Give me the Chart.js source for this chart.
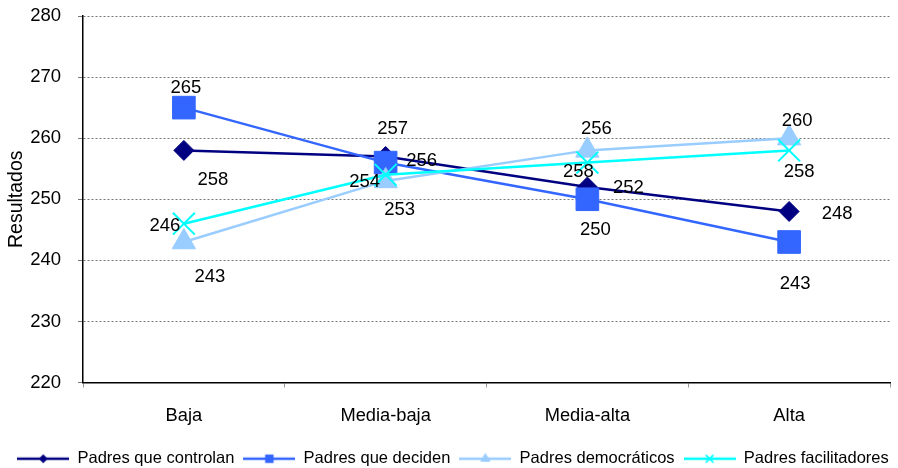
<!DOCTYPE html>
<html>
<head>
<meta charset="utf-8">
<script src="https://cdn.jsdelivr.net/npm/chart.js@4.4.1/dist/chart.umd.min.js"></script>
<style>
  html, body { margin: 0; padding: 0; background: #fff; }
  #wrap { width: 898px; height: 468px; }
</style>
</head>
<body>
<div id="wrap"><canvas id="chartCanvas"></canvas></div>
<script>
const categories = ["Baja", "Media-baja", "Media-alta", "Alta"];
const seriesNames = ["Padres que controlan", "Padres que deciden", "Padres democráticos", "Padres facilitadores"];
const controlan = [258, 257, 252, 248];
const deciden = [265, 256, 250, 243];
const democraticos = [243, 253, 258, 260];
const facilitadores = [246, 254, 256, 258];

// where each value label sits relative to its point (px)
const labelOffsets = [
  [[29, 30], [7, -28], [41, 1], [48, 2]],
  [[2, -20], [36, -2], [8, 31], [6, 42]],
  [[26, 35], [14, 29], [-9, 22], [8, -17]],
  [[-19, 2], [-21, 7], [9, -34], [10, 22]]
];

const FONT = "'Liberation Sans', Arial, sans-serif";

function markerPath(ctx, style, x, y, r) {
  ctx.beginPath();
  if (style === "rectRot") {
    ctx.moveTo(x - r, y); ctx.lineTo(x, y - r); ctx.lineTo(x + r, y); ctx.lineTo(x, y + r); ctx.closePath();
  } else if (style === "rect") {
    const s = r * Math.SQRT1_2;
    ctx.rect(x - s, y - s, 2 * s, 2 * s);
  } else if (style === "triangle") {
    ctx.moveTo(x, y - r);
    ctx.lineTo(x + r * 0.866, y + r * 0.5);
    ctx.lineTo(x - r * 0.866, y + r * 0.5);
    ctx.closePath();
  } else {
    const d = r * Math.SQRT1_2;
    ctx.moveTo(x - d, y - d); ctx.lineTo(x + d, y + d);
    ctx.moveTo(x + d, y - d); ctx.lineTo(x - d, y + d);
  }
}

function legendImage(color, style, r) {
  const c = document.createElement("canvas");
  c.width = 52; c.height = 14;
  const ctx = c.getContext("2d");
  ctx.strokeStyle = color;
  ctx.fillStyle = color;
  ctx.lineWidth = 2.5;
  ctx.beginPath(); ctx.moveTo(0, 7); ctx.lineTo(52, 7); ctx.stroke();
  markerPath(ctx, style, 26, 7, r);
  if (style === "crossRot") { ctx.lineWidth = 1.5; ctx.stroke(); } else { ctx.fill(); }
  return c;
}

const colors = ["#000080", "#3366FF", "#99CCFF", "#00FFFF"];
const styles = ["rectRot", "rect", "triangle", "crossRot"];
const radii = [10, 16, 13.5, 15.5];
const legendRadii = [4.5, 6, 6, 5.5];
const allData = [controlan, deciden, democraticos, facilitadores];

const datasets = allData.map((d, i) => ({
  label: seriesNames[i],
  data: d,
  borderColor: colors[i],
  backgroundColor: colors[i],
  borderWidth: 2.5,
  pointStyle: styles[i],
  pointRadius: radii[i],
  pointHoverRadius: radii[i],
  pointBorderWidth: i === 3 ? 2 : 1,
  pointBackgroundColor: colors[i],
  pointBorderColor: colors[i],
  tension: 0,
  clip: false,
  order: 4 - i
}));

const valueLabels = {
  id: "valueLabels",
  afterDatasetsDraw(chart) {
    const ctx = chart.ctx;
    ctx.save();
    ctx.font = "18.5px " + FONT;
    ctx.fillStyle = "#000";
    ctx.textAlign = "center";
    ctx.textBaseline = "middle";
    chart.data.datasets.forEach((ds, i) => {
      const meta = chart.getDatasetMeta(i);
      meta.data.forEach((pt, j) => {
        const off = labelOffsets[i][j];
        ctx.fillText(String(ds.data[j]), pt.x + off[0], pt.y + off[1]);
      });
    });
    ctx.restore();
  }
};

// nudge the legend a bit lower and to the right, like the original
const legendShift = {
  id: "legendShift",
  afterLayout(chart) {
    const lg = chart.legend;
    if (!lg) return;
    lg.top += 9; lg.bottom += 9;
    lg.left += 8; lg.right += 8;
  }
};

const ctx = document.getElementById("chartCanvas").getContext("2d");
new Chart(ctx, {
  type: "line",
  data: { labels: categories, datasets: datasets },
  plugins: [valueLabels, legendShift],
  options: {
    responsive: true,
    maintainAspectRatio: false,
    animation: false,
    layout: { autoPadding: false, padding: { top: 16, right: 8, bottom: 0, left: 0 } },
    plugins: {
      tooltip: { enabled: false },
      legend: {
        position: "bottom",
        labels: {
          usePointStyle: true,
          pointStyleWidth: 52,
          padding: 9,
          color: "#000",
          font: { family: FONT, size: 16.5 },
          generateLabels(chart) {
            return chart.data.datasets.map((ds, i) => ({
              text: ds.label,
              pointStyle: legendImage(colors[i], styles[i], legendRadii[i]),
              fillStyle: colors[i],
              strokeStyle: colors[i],
              lineWidth: 0,
              hidden: false,
              datasetIndex: i
            }));
          }
        }
      }
    },
    scales: {
      x: {
        offset: true,
        grid: { display: true, drawOnChartArea: false, drawTicks: true, tickLength: 5, offset: true, color: "#999" },
        border: { display: true, color: "#000", width: 1.5 },
        ticks: { color: "#000", padding: 17, font: { family: FONT, size: 18.3 } },
        afterFit(scale) { scale.height = 50; }
      },
      y: {
        min: 220,
        max: 280,
        ticks: { stepSize: 10, color: "#000", padding: 17, font: { family: FONT, size: 18.5 } },
        grid: { color: "#777", lineWidth: 1, tickLength: 5 },
        border: { display: true, color: "#000", width: 1.5, dash: [2, 2] },
        title: { display: true, text: "Resultados", color: "#000", padding: { top: 5, bottom: 0 }, font: { family: FONT, size: 19.5 } },
        afterFit(scale) {
          scale.width = 83;
          scale.paddingTop = 0;
          scale.paddingBottom = 0;
        }
      }
    }
  }
});
</script>
</body>
</html>
